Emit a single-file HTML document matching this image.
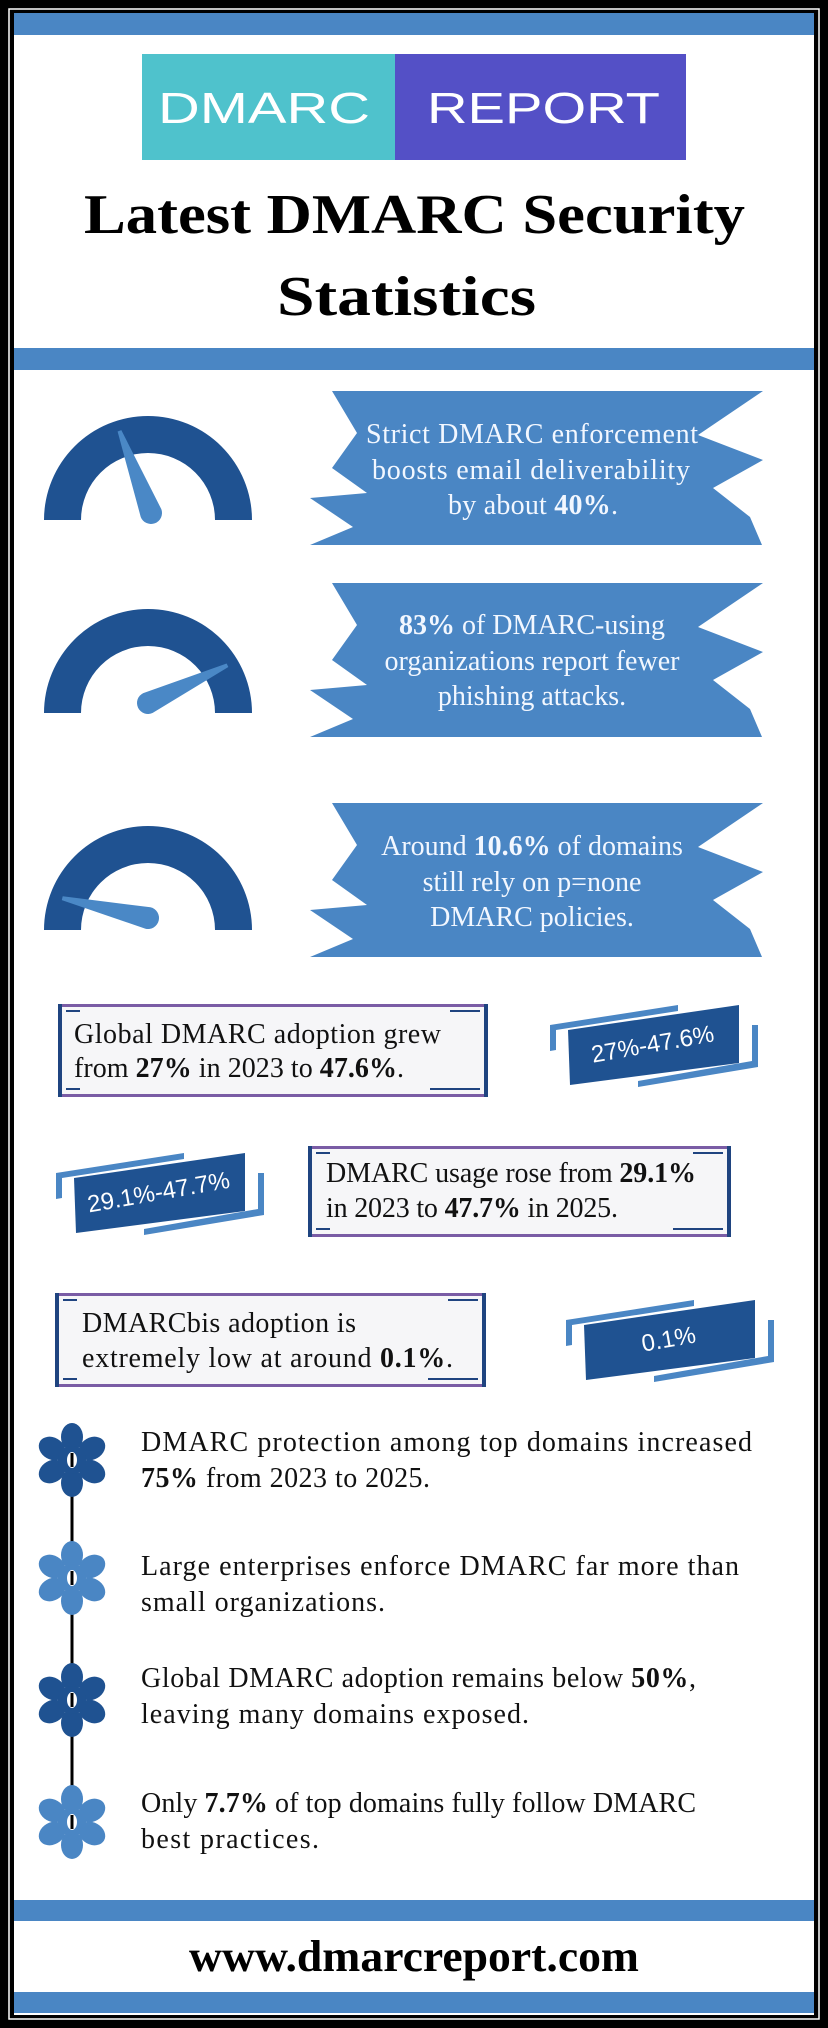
<!DOCTYPE html>
<html><head><meta charset="utf-8"><style>
html,body{margin:0;padding:0;background:#000;}
svg{display:block;}
</style></head><body>
<svg width="828" height="2028" viewBox="0 0 828 2028" xmlns="http://www.w3.org/2000/svg">
<rect x="0" y="0" width="828" height="2028" fill="#000"/>
<rect x="9" y="9" width="810" height="2010" fill="none" stroke="#fff" stroke-width="1.5"/>
<rect x="14" y="13" width="800" height="2002" fill="#fff"/>
<g fill="#4a86c4">
<rect x="14" y="13" width="800" height="22"/>
<rect x="14" y="348" width="800" height="22"/>
<rect x="14" y="1900" width="800" height="21"/>
<rect x="14" y="1992" width="800" height="21"/>
</g>
<rect x="142" y="54" width="253" height="106" fill="#4fc2cc"/>
<rect x="395" y="54" width="291" height="106" fill="#5450c6"/>
<g font-family="Liberation Sans, sans-serif" font-size="44" fill="#fff">
<text x="158" y="123" textLength="212" lengthAdjust="spacingAndGlyphs">DMARC</text>
<text x="427" y="123" textLength="233" lengthAdjust="spacingAndGlyphs">REPORT</text>
</g>
<g font-family="Liberation Serif, serif" font-weight="bold" font-size="56" fill="#000">
<text x="84" y="233" textLength="661" lengthAdjust="spacingAndGlyphs">Latest DMARC Security</text>
<text x="277" y="315" textLength="259" lengthAdjust="spacingAndGlyphs">Statistics</text>
</g>
<defs>
<path id="ring" d="M44 520 A104 104 0 0 1 252 520 L215 520 A67 67 0 0 0 81 520 Z" fill="#1f5291"/>
<path id="ndl" d="M-2 -88 L2 -88 L11 0 A11 11 0 0 1 -11 0 Z" fill="#4a88c6"/>
<polygon id="ban" points="332,391 763,391 698,435 763,460 713,488 750,517 762,545 310,545 353,527 310,498 367,493 332,468 357,433" fill="#4a86c4"/>
</defs>
<use href="#ring"/>
<use href="#ring" y="193"/>
<use href="#ring" y="410"/>
<use href="#ndl" transform="translate(151,513) rotate(-21)"/>
<use href="#ndl" transform="translate(148,703) rotate(64.6)"/>
<use href="#ndl" transform="translate(148,918) rotate(-77)"/>
<use href="#ban"/>
<use href="#ban" y="192"/>
<use href="#ban" y="412"/>
<g font-family="Liberation Serif, serif" font-size="28" fill="#f2f7ff" text-anchor="middle">
<text x="532" y="443" textLength="332" lengthAdjust="spacing">Strict DMARC enforcement</text>
<text x="531" y="479" textLength="318" lengthAdjust="spacing">boosts email deliverability</text>
<text x="533" y="514" textLength="170" lengthAdjust="spacing">by about <tspan font-weight="bold">40%</tspan>.</text>
<text x="532" y="634"><tspan font-weight="bold">83%</tspan> of DMARC-using</text>
<text x="532" y="670">organizations report fewer</text>
<text x="532" y="705">phishing attacks.</text>
<text x="532" y="855">Around <tspan font-weight="bold">10.6%</tspan> of domains</text>
<text x="532" y="891">still rely on p=none</text>
<text x="532" y="926">DMARC policies.</text>
</g>
<g>
<rect x="58" y="1004" width="430" height="93" fill="#f6f6f8"/>
<rect x="58" y="1004" width="430" height="3" fill="#7a5ca5"/>
<rect x="58" y="1094" width="430" height="3" fill="#7a5ca5"/>
<rect x="58" y="1004" width="4" height="93" fill="#1f4480"/>
<rect x="484" y="1004" width="4" height="93" fill="#1f4480"/>
<rect x="66" y="1010" width="14" height="2" fill="#1f4480"/>
<rect x="450" y="1010" width="30" height="2" fill="#1f4480"/>
<rect x="66" y="1088" width="14" height="2" fill="#1f4480"/>
<rect x="430" y="1088" width="50" height="2" fill="#1f4480"/>

<rect x="308" y="1146" width="423" height="91" fill="#f6f6f8"/>
<rect x="308" y="1146" width="423" height="3" fill="#7a5ca5"/>
<rect x="308" y="1234" width="423" height="3" fill="#7a5ca5"/>
<rect x="308" y="1146" width="4" height="91" fill="#1f4480"/>
<rect x="727" y="1146" width="4" height="91" fill="#1f4480"/>
<rect x="316" y="1152" width="14" height="2" fill="#1f4480"/>
<rect x="693" y="1152" width="30" height="2" fill="#1f4480"/>
<rect x="316" y="1228" width="14" height="2" fill="#1f4480"/>
<rect x="673" y="1228" width="50" height="2" fill="#1f4480"/>

<rect x="55" y="1293" width="431" height="94" fill="#f6f6f8"/>
<rect x="55" y="1293" width="431" height="3" fill="#7a5ca5"/>
<rect x="55" y="1384" width="431" height="3" fill="#7a5ca5"/>
<rect x="55" y="1293" width="4" height="94" fill="#1f4480"/>
<rect x="482" y="1293" width="4" height="94" fill="#1f4480"/>
<rect x="63" y="1299" width="14" height="2" fill="#1f4480"/>
<rect x="448" y="1299" width="30" height="2" fill="#1f4480"/>
<rect x="63" y="1378" width="14" height="2" fill="#1f4480"/>
<rect x="428" y="1378" width="50" height="2" fill="#1f4480"/>
</g>
<g font-family="Liberation Serif, serif" font-size="28" fill="#111">
<text x="74" y="1043" textLength="367" lengthAdjust="spacing">Global DMARC adoption grew</text>
<text x="74" y="1077" textLength="330" lengthAdjust="spacing">from <tspan font-weight="bold">27%</tspan> in 2023 to <tspan font-weight="bold">47.6%</tspan>.</text>
<text x="326" y="1182" textLength="370" lengthAdjust="spacing">DMARC usage rose from <tspan font-weight="bold">29.1%</tspan></text>
<text x="326" y="1217" textLength="292" lengthAdjust="spacing">in 2023 to <tspan font-weight="bold">47.7%</tspan> in 2025.</text>
<text x="82" y="1332" textLength="274" lengthAdjust="spacing">DMARCbis adoption is</text>
<text x="82" y="1367" textLength="371" lengthAdjust="spacing">extremely low at around <tspan font-weight="bold">0.1%</tspan>.</text>
</g>
<defs>
<g id="tag">
<polygon points="0,25 171,0 171,58 2,80" fill="#1f5291"/>
<polygon points="-18,20 110,0 110,6 -12,25 -12,45 -18,46" fill="#4a86c4"/>
<polygon points="70,82 190,62 190,20 184,20 184,56 70,76" fill="#4a86c4"/>
</g>
</defs>
<use href="#tag" x="568" y="1005"/>
<use href="#tag" x="74" y="1153"/>
<use href="#tag" x="584" y="1300"/>
<g font-family="Liberation Sans, sans-serif" font-size="24" fill="#fff" text-anchor="middle">
<text transform="translate(654,1052) rotate(-10)">27%-47.6%</text>
<text transform="translate(160,1200) rotate(-10)">29.1%-47.7%</text>
<text transform="translate(670,1347) rotate(-10)">0.1%</text>
</g>
<line x1="72" y1="1460" x2="72" y2="1822" stroke="#000" stroke-width="3"/>
<defs>
<g id="fl">
<ellipse cx="0" cy="-23" rx="11" ry="14"/>
<ellipse cx="0" cy="-23" rx="11" ry="14" transform="rotate(60)"/>
<ellipse cx="0" cy="-23" rx="11" ry="14" transform="rotate(120)"/>
<ellipse cx="0" cy="-23" rx="11" ry="14" transform="rotate(180)"/>
<ellipse cx="0" cy="-23" rx="11" ry="14" transform="rotate(240)"/>
<ellipse cx="0" cy="-23" rx="11" ry="14" transform="rotate(300)"/>
<circle r="14"/>
</g>
</defs>
<use href="#fl" x="72" y="1460" fill="#1f5291"/>
<use href="#fl" x="72" y="1578" fill="#4a86c4"/>
<use href="#fl" x="72" y="1700" fill="#1f5291"/>
<use href="#fl" x="72" y="1822" fill="#4a86c4"/>
<g fill="#fff">
<ellipse cx="72" cy="1460" rx="5" ry="8"/><ellipse cx="72" cy="1578" rx="5" ry="8"/>
<ellipse cx="72" cy="1700" rx="5" ry="8"/><ellipse cx="72" cy="1822" rx="5" ry="8"/>
</g>
<g stroke="#000" stroke-width="3">
<line x1="72" y1="1453" x2="72" y2="1467"/><line x1="72" y1="1571" x2="72" y2="1585"/>
<line x1="72" y1="1693" x2="72" y2="1707"/><line x1="72" y1="1815" x2="72" y2="1829"/>
</g>
<g font-family="Liberation Serif, serif" font-size="28" fill="#111">
<text x="141" y="1451" textLength="611" lengthAdjust="spacing">DMARC protection among top domains increased</text>
<text x="141" y="1487" textLength="289" lengthAdjust="spacing"><tspan font-weight="bold">75%</tspan> from 2023 to 2025.</text>
<text x="141" y="1575" textLength="598" lengthAdjust="spacing">Large enterprises enforce DMARC far more than</text>
<text x="141" y="1611" textLength="244" lengthAdjust="spacing">small organizations.</text>
<text x="141" y="1687" textLength="555" lengthAdjust="spacing">Global DMARC adoption remains below <tspan font-weight="bold">50%</tspan>,</text>
<text x="141" y="1723" textLength="388" lengthAdjust="spacing">leaving many domains exposed.</text>
<text x="141" y="1812" textLength="555" lengthAdjust="spacing">Only <tspan font-weight="bold">7.7%</tspan> of top domains fully follow DMARC</text>
<text x="141" y="1848" textLength="178" lengthAdjust="spacing">best practices.</text>
</g>
<text x="189" y="1971" font-family="Liberation Serif, serif" font-weight="bold" font-size="44" fill="#000" textLength="450" lengthAdjust="spacingAndGlyphs">www.dmarcreport.com</text>
</svg>
</body></html>
